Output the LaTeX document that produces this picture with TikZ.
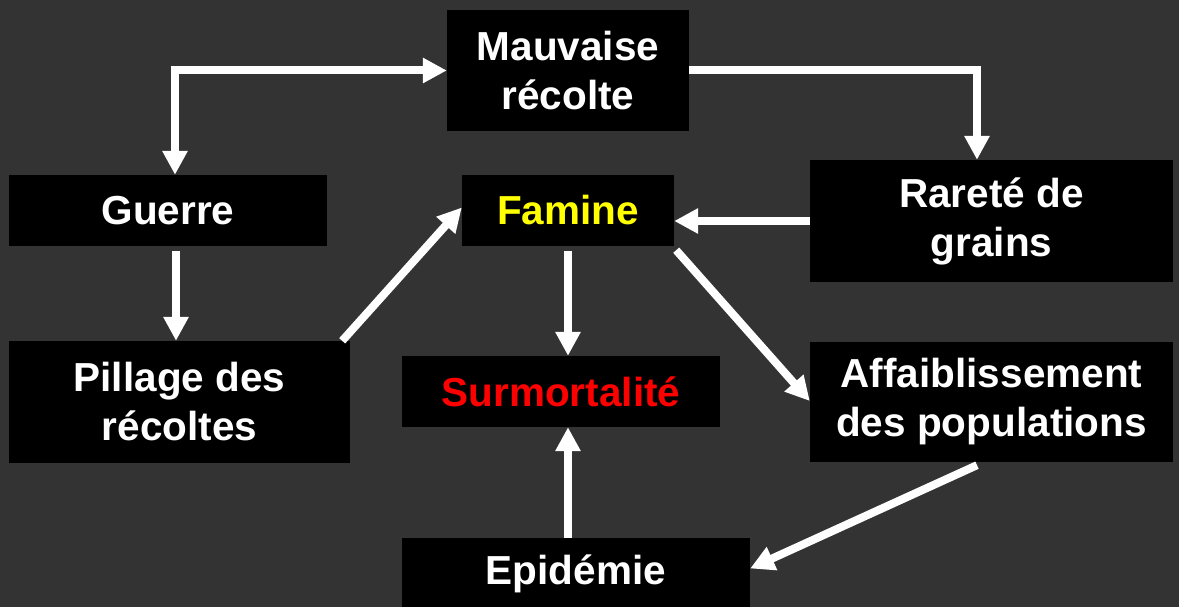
\documentclass[tikz,border=0pt]{standalone}
\usepackage{fontspec}
\setmainfont{Liberation Sans}
\usetikzlibrary{arrows.meta,calc}
\definecolor{bg}{RGB}{51,51,51}
\definecolor{famyellow}{RGB}{255,255,0}
\definecolor{surmred}{RGB}{255,0,0}
\tikzset{
 box/.style={fill=black,text=white,font=\bfseries\fontsize{40.5}{49}\selectfont,align=center,inner sep=0pt},
 arr/.style={draw=white,line width=8pt,-{Triangle[width=24pt,length=24pt]}},
 darr/.style={draw=white,line width=8pt,{Triangle[width=24pt,length=24pt]}-{Triangle[width=24pt,length=24pt]}}
}
\begin{document}
\begin{tikzpicture}[x=1pt,y=-1pt]
\fill[bg] (0,0) rectangle (1179,607);
\useasboundingbox (0,0) rectangle (1179,607);
\node[box,minimum width=242pt,minimum height=121pt] (mauv) at (568,70.5) {Mauvaise\\récolte};
\node[box,minimum width=318pt,minimum height=71pt] (guerre) at (168,210.5) {Guerre};
\node[box,minimum width=212pt,minimum height=71pt,text=famyellow] (famine) at (568,210.5) {Famine};
\node[box,minimum width=363pt,minimum height=122pt] (rarete) at (991.5,221) {Rareté de\\grains};
\node[box,minimum width=341pt,minimum height=122pt] (pillage) at (179.5,402) {Pillage des\\récoltes};
\node[box,minimum width=318pt,minimum height=71pt,text=surmred] (surm) at (561,391.5) {Surmortalité};
\node[box,minimum width=363pt,minimum height=120pt] (affai) at (991.5,402) {Affaiblissement\\des populations};
\node[box,minimum width=348pt,minimum height=71pt] (epid) at (576,573.5) {Epidémie};
% connectors
\draw[darr] ($(guerre.north)+(7,0)$) |- (mauv.west);
\draw[arr] (mauv.east) -| ($(rarete.north)+(-14.5,0)$);
\draw[arr] (rarete.west) -- (famine.east |- rarete.west);
\draw[arr] ($(guerre.south)+(8,5)$) -- ($(pillage.north)+(-3.5,0)$);
\draw[arr] ($(pillage.north east)+(-8,0)$) -- ($(famine.west)+(0,-3)$);
\draw[arr] ($(famine.south)+(0,5)$) -- (famine.south |- surm.north);
\draw[arr] ($(famine.south east)+(2,4)$) -- ($(affai.west)+(0,-1)$);
\draw[arr] (famine.south |- epid.north) -- (famine.south |- surm.south);
\draw[arr] ($(affai.south)+(-14.5,3)$) -- ($(epid.east)+(0,-5)$);
\end{tikzpicture}
\end{document}
